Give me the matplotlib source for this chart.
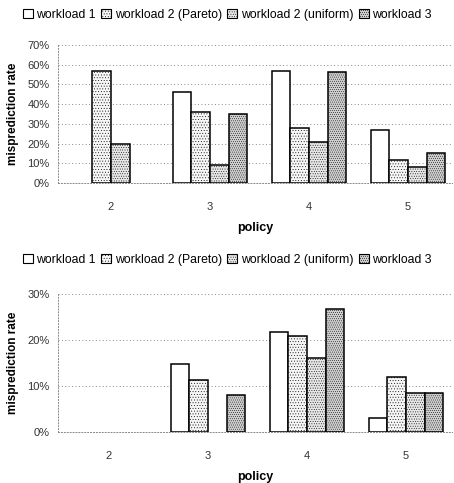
import numpy as np
import matplotlib
matplotlib.use('Agg')
import matplotlib.pyplot as plt
from matplotlib.patches import Patch
from matplotlib.ticker import FuncFormatter

plt.rcParams['font.family'] = ['Liberation Sans', 'DejaVu Sans']
plt.rcParams['hatch.color'] = '#666666'
plt.rcParams['hatch.linewidth'] = 0.3

# data (misprediction rate, %)
policies = ['2', '3', '4', '5']
series = ['workload 1', 'workload 2 (Pareto)', 'workload 2 (uniform)', 'workload 3']
top_w1 = [0, 46, 57, 27]
top_w2p = [57, 36, 28, 11.5]
top_w2u = [20, 9, 21, 8]
top_w3 = [0, 35, 56.5, 15]
bot_w1 = [0, 14.7, 21.8, 3]
bot_w2p = [0, 11.4, 20.8, 12]
bot_w2u = [0, 0, 16, 8.4]
bot_w3 = [0, 8, 26.7, 8.4]

# styles for the four series
faces = ['white', '#f6f6f6', '#e6e6e6', '#cfcfcf']
hatches = [None, '......', '.......', '........']

fig = plt.figure(figsize=(4.54, 4.83), dpi=100)

W, H = 454.0, 483.0
def axes_px(left, top, right, bottom):
    return fig.add_axes([left / W, 1 - bottom / H, (right - left) / W, (bottom - top) / H])

def draw(ax, data, ymax, step, center_px, left_px, width_px, leg_y):
    x = np.arange(len(policies))
    bw = 0.189
    for i, vals in enumerate(data):
        offs = (i - 1.5) * bw
        for xi, v in zip(x, vals):
            if v <= 0:
                continue
            ax.bar(xi + offs, v, bw, color=faces[i], edgecolor='black',
                   linewidth=1.1, hatch=hatches[i], zorder=3)
    lo = -(center_px - left_px) / 99.0
    ax.set_xlim(lo, lo + width_px / 99.0)
    ax.set_ylim(0, ymax)
    ax.set_yticks(np.arange(0, ymax + 0.1, step))
    ax.yaxis.set_major_formatter(FuncFormatter(lambda v, p: '%d%%' % round(v)))
    ax.set_xticks(x)
    ax.set_xticklabels(policies)
    ax.grid(axis='y', linestyle=(0, (1, 2.5)), color='#888888', linewidth=0.7, zorder=0)
    for s in ['top', 'right']:
        ax.spines[s].set_visible(False)
    for s in ['left', 'bottom']:
        ax.spines[s].set_linestyle((0, (1, 2)))
        ax.spines[s].set_color('#888888')
        ax.spines[s].set_linewidth(0.7)
    ax.tick_params(axis='both', length=0, labelsize=8, colors='#333333', pad=6)
    ax.tick_params(axis='x', pad=14)
    ax.set_xlabel('policy', fontsize=9, fontweight='bold', labelpad=7)
    ax.set_ylabel('misprediction rate', fontsize=8.5, fontweight='bold', labelpad=6)
    handles = [Patch(facecolor=faces[i], edgecolor='black', hatch=hatches[i], linewidth=0.8)
               for i in range(4)]
    ax.legend(handles, series, loc='lower center', bbox_to_anchor=(0.43, leg_y), ncol=4,
              frameon=False, fontsize=8.8, handlelength=0.8, handleheight=0.8,
              handletextpad=0.3, columnspacing=0.45, borderaxespad=0)

ax1 = axes_px(58, 45, 452, 183)
draw(ax1, [top_w1, top_w2p, top_w2u, top_w3], 70, 10, 111, 58, 394, 1.14)

ax2 = axes_px(58, 294, 452, 432)
draw(ax2, [bot_w1, bot_w2p, bot_w2u, bot_w3], 30, 10, 109, 58, 394, 1.17)

fig.savefig('out.png', dpi=100)
